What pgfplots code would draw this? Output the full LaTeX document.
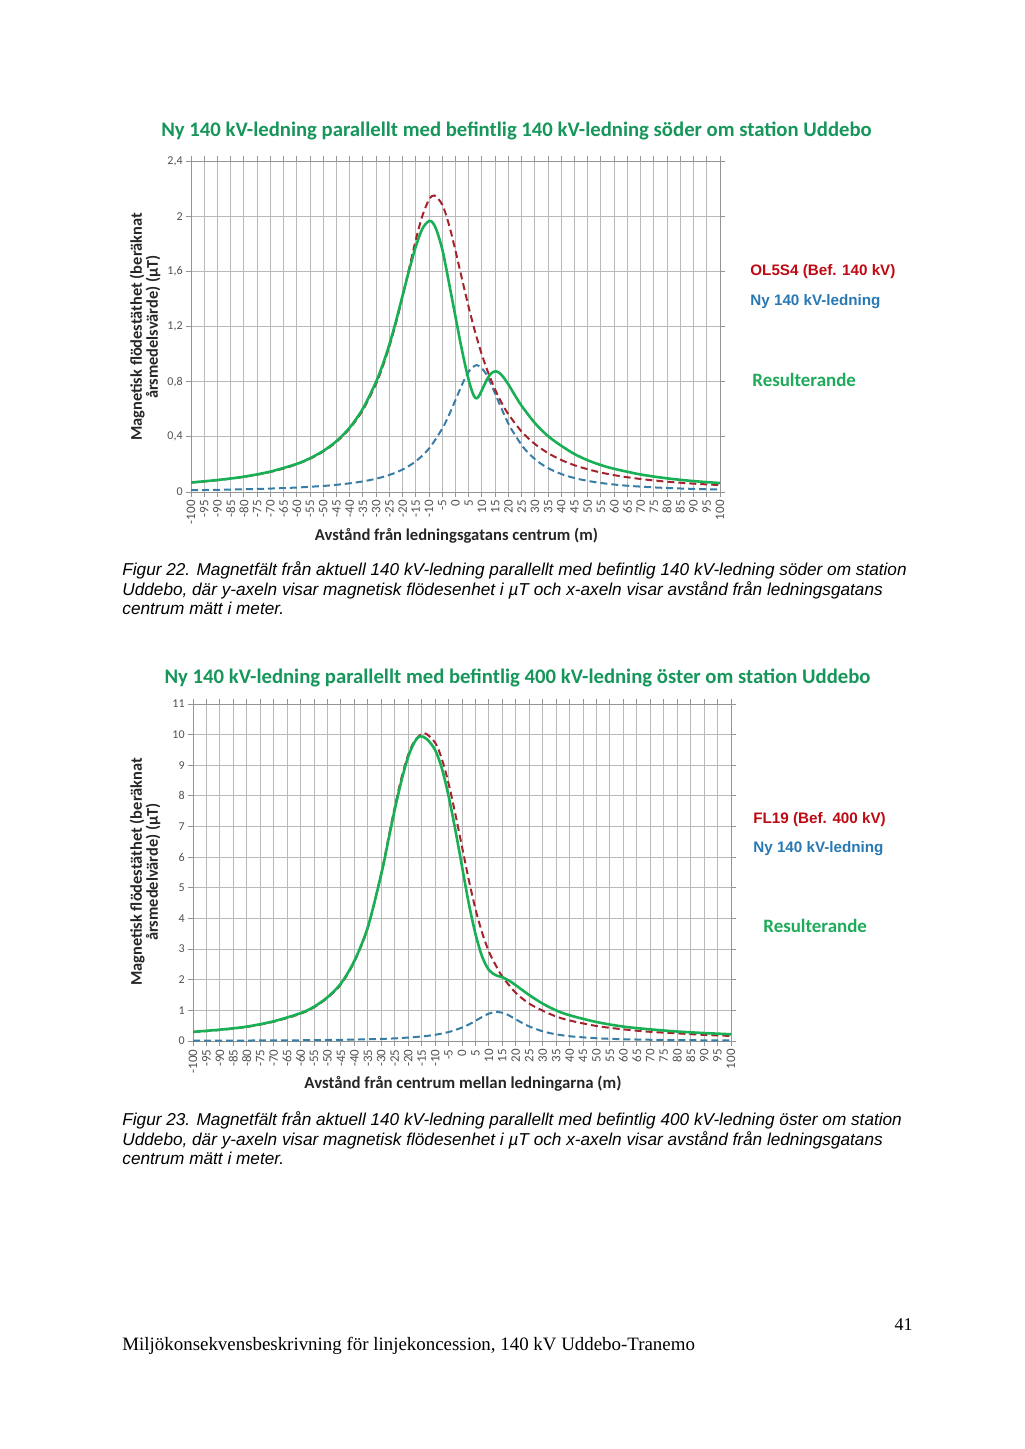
\documentclass[border=0pt]{standalone}
\usepackage{pgfplots}
\pgfplotsset{compat=1.18}
\usepackage{fontspec}
\setmainfont{Carlito}
\newfontfamily\arialf{Liberation Sans}
\newfontfamily\timesf{Liberation Serif}
\definecolor{titlegreen}{RGB}{22,150,90}
\definecolor{resgreen}{RGB}{30,170,90}
\definecolor{curvegreen}{RGB}{25,175,85}
\definecolor{curvered}{RGB}{165,35,45}
\definecolor{curveblue}{RGB}{55,125,165}
\definecolor{legred}{RGB}{190,10,20}
\definecolor{legblue}{RGB}{40,120,180}
\definecolor{gridgray}{RGB}{185,185,185}
\definecolor{ticktext}{RGB}{80,80,80}
\pgfplotsset{
  mychart/.style={
    scale only axis, anchor=south west,
    xmin=-100, xmax=100,
    xtick={-100,-95,...,100},
    grid=major,
    grid style={gridgray, line width=0.5pt},
    axis line style={gridgray!80!black, line width=0.5pt},
    tick align=outside, major tick length=2.5pt,
    tick style={gridgray!80!black, line width=0.5pt},
    xticklabel style={rotate=90, anchor=east, font=\fontsize{6.5}{7}\selectfont, text=ticktext, inner sep=1.5pt},
    yticklabel style={font=\fontsize{6}{7}\selectfont, text=ticktext, inner sep=1.5pt},
    /pgf/number format/assume math mode=true,
    /pgf/number format/use comma,
    /pgf/number format/1000 sep={},
  },
  gline/.style={curvegreen, line width=1.3pt, smooth},
  rline/.style={curvered, line width=1pt, dash pattern=on 3.5pt off 2pt, smooth},
  bline/.style={curveblue, line width=1pt, dash pattern=on 3.5pt off 2pt, smooth},
}
\begin{document}
\begin{tikzpicture}
\useasboundingbox (0,0) rectangle (512pt,-724.5pt);
% ---------- Chart 1 ----------
\begin{axis}[mychart, at={(95.5pt,-246pt)}, width=264.5pt, height=165.5pt,
  ymin=0, ymax=2.4, ytick={0,0.4,0.8,1.2,1.6,2,2.4}]
\addplot[bline] coordinates {(-100,0.0131)(-90,0.0159)(-80,0.0196)(-70,0.0249)(-60,0.0324)(-50,0.0440)(-45,0.0522)(-40,0.0629)(-35,0.0771)(-30,0.0964)(-25,0.1236)(-20,0.1631)(-15,0.2228)(-10,0.3154)(-5,0.46)(-2.5,0.557)(0,0.667)(2.5,0.780)(5,0.873)(8,0.92)(11,0.873)(13.5,0.780)(16,0.667)(18.5,0.557)(21,0.46)(26,0.3154)(31,0.2228)(36,0.1631)(41,0.1236)(46,0.0964)(51,0.0771)(56,0.0629)(61,0.0522)(66,0.0440)(76,0.0324)(86,0.0249)(96,0.0196)(100,0.0180)};
\addplot[rline] coordinates {(-100,0.0686)(-95,0.0764)(-90,0.0856)(-85,0.0966)(-80,0.1098)(-75,0.1257)(-70,0.1455)(-65,0.170)(-60,0.201)(-55,0.241)(-50,0.2935)(-45,0.3638)(-40,0.460)(-35,0.595)(-30,0.786)(-27.5,0.910)(-25,1.056)(-22.5,1.226)(-20,1.418)(-17.5,1.624)(-15,1.829)(-12.5,2.004)(-10,2.120)(-8,2.15)(-5,2.083)(-2.5,1.940)(0,1.749)(2.5,1.541)(5,1.339)(7.5,1.155)(10,0.994)(12.5,0.858)(15,0.742)(17.5,0.645)(20,0.564)(25,0.438)(30,0.348)(35,0.282)(40,0.232)(45,0.194)(50,0.165)(55,0.141)(60,0.122)(65,0.107)(70,0.0943)(75,0.0837)(80,0.0747)(85,0.0672)(90,0.0607)(95,0.0551)(100,0.0502)};
\addplot[gline] coordinates {(-100,0.069)(-90,0.087)(-80,0.111)(-70,0.148)(-60,0.204)(-55,0.245)(-50,0.298)(-45,0.369)(-40,0.467)(-35,0.605)(-30,0.80)(-27.5,0.925)(-25,1.07)(-22.5,1.24)(-20,1.425)(-17.5,1.61)(-15,1.78)(-12.5,1.91)(-10,1.965)(-8.5,1.95)(-7,1.89)(-5,1.76)(-3.5,1.62)(-2,1.47)(0,1.27)(2,1.07)(4,0.89)(5.5,0.775)(7,0.695)(8,0.68)(9,0.70)(10.5,0.76)(12,0.82)(13.5,0.86)(15,0.875)(16.5,0.865)(18,0.835)(20,0.78)(22.5,0.70)(25,0.625)(30,0.50)(35,0.405)(40,0.335)(45,0.275)(50,0.23)(55,0.195)(60,0.168)(70,0.127)(80,0.099)(90,0.079)(100,0.065)};
\end{axis}
\node[font=\fontsize{10.35}{12}\selectfont\bfseries, text=titlegreen] at (258.25pt,-65.5pt) {Ny 140 kV-ledning parallellt med befintlig 140 kV-ledning söder om station Uddebo};
\node[rotate=90, align=center, inner sep=0pt, font=\fontsize{8.2}{8}\selectfont\bfseries, text=black!85] at (72.5pt,-163.5pt) {Magnetisk flödestäthet (beräknat\\årsmedelsvärde) (µT)};
\node[font=\fontsize{8.3}{9}\selectfont\bfseries, text=black!85] at (228.25pt,-268pt) {Avstånd från ledningsgatans centrum (m)};
\node[anchor=west, inner sep=0pt, font=\arialf\bfseries\fontsize{7.6}{8}\selectfont, text=legred] at (375pt,-136pt) {OL5S4 (Bef. 140 kV)};
\node[anchor=west, inner sep=0pt, font=\arialf\bfseries\fontsize{7.6}{8}\selectfont, text=legblue] at (375pt,-151pt) {Ny 140 kV-ledning};
\node[anchor=west, inner sep=0pt, font=\fontsize{9.45}{10}\selectfont\bfseries, text=resgreen] at (376pt,-190pt) {Resulterande};
\begin{scope}[every node/.style={anchor=base west, inner sep=0pt, font=\arialf\itshape\fontsize{8.6}{9}\selectfont}]
\node at (61pt,-287.5pt) {Figur 22. Magnetfält från aktuell 140 kV-ledning parallellt med befintlig 140 kV-ledning söder om station};
\node at (61pt,-297.5pt) {Uddebo, där y-axeln visar magnetisk flödesenhet i µT och x-axeln visar avstånd från ledningsgatans};
\node at (61pt,-307pt) {centrum mätt i meter.};
\end{scope}
% ---------- Chart 2 ----------
\begin{axis}[mychart, at={(96.5pt,-520.5pt)}, width=269pt, height=168.5pt,
  ymin=0, ymax=11, ytick={0,1,...,11}]
\addplot[bline] coordinates {(-100,0.011)(-70,0.0195)(-50,0.033)(-35,0.056)(-25,0.086)(-15,0.147)(-9,0.218)(-4,0.316)(1,0.475)(4,0.608)(7,0.76)(10,0.894)(13,0.95)(16,0.894)(19,0.76)(22,0.608)(25,0.475)(30,0.316)(35,0.218)(41,0.1475)(51,0.086)(61,0.056)(76,0.033)(96,0.0195)(100,0.018)};
\addplot[rline] coordinates {(-100,0.29)(-90,0.36)(-80,0.46)(-70,0.63)(-60,0.89)(-55,1.1)(-50,1.41)(-45,1.85)(-40,2.59)(-35,3.7)(-30,5.48)(-27.5,6.56)(-25,7.63)(-22.5,8.59)(-20,9.34)(-17.5,9.81)(-14,10.05)(-10,9.74)(-7.5,9.21)(-5,8.41)(-2.5,7.42)(0,6.34)(2.5,5.27)(5,4.31)(7.5,3.53)(10,2.92)(12.5,2.48)(15,2.1)(20,1.57)(25,1.22)(30,0.99)(35,0.8)(40,0.67)(50,0.49)(60,0.38)(70,0.30)(80,0.25)(90,0.2)(100,0.165)};
\addplot[gline] coordinates {(-100,0.30)(-90,0.37)(-80,0.47)(-70,0.645)(-60,0.91)(-55,1.12)(-50,1.43)(-45,1.88)(-40,2.62)(-35,3.72)(-30,5.45)(-27.5,6.5)(-25,7.55)(-22.5,8.5)(-20,9.28)(-17.5,9.78)(-15.5,9.95)(-13,9.85)(-10,9.5)(-7.5,8.9)(-5,8.0)(-2.5,6.9)(0,5.7)(2.5,4.5)(5,3.5)(7.5,2.75)(10,2.32)(12.5,2.15)(15,2.08)(17.5,1.97)(20,1.82)(25,1.5)(30,1.22)(35,1.0)(40,0.84)(50,0.62)(60,0.47)(70,0.38)(80,0.31)(90,0.26)(100,0.22)};
\end{axis}
\node[font=\fontsize{10.35}{12}\selectfont\bfseries, text=titlegreen] at (258.75pt,-339pt) {Ny 140 kV-ledning parallellt med befintlig 400 kV-ledning öster om station Uddebo};
\node[rotate=90, align=center, inner sep=0pt, font=\fontsize{8.2}{8}\selectfont\bfseries, text=black!85] at (72.5pt,-436pt) {Magnetisk flödestäthet (beräknat\\årsmedelvärde) (µT)};
\node[font=\fontsize{8.4}{9}\selectfont\bfseries, text=black!85] at (231.5pt,-542pt) {Avstånd från centrum mellan ledningarna (m)};
\node[anchor=west, inner sep=0pt, font=\arialf\bfseries\fontsize{7.6}{8}\selectfont, text=legred] at (376.5pt,-410pt) {FL19 (Bef. 400 kV)};
\node[anchor=west, inner sep=0pt, font=\arialf\bfseries\fontsize{7.6}{8}\selectfont, text=legblue] at (376.5pt,-424.5pt) {Ny 140 kV-ledning};
\node[anchor=west, inner sep=0pt, font=\fontsize{9.45}{10}\selectfont\bfseries, text=resgreen] at (381.5pt,-463pt) {Resulterande};
\begin{scope}[every node/.style={anchor=base west, inner sep=0pt, font=\arialf\itshape\fontsize{8.6}{9}\selectfont}]
\node at (61pt,-562.5pt) {Figur 23. Magnetfält från aktuell 140 kV-ledning parallellt med befintlig 400 kV-ledning öster om station};
\node at (61pt,-572.5pt) {Uddebo, där y-axeln visar magnetisk flödesenhet i µT och x-axeln visar avstånd från ledningsgatans};
\node at (61pt,-582pt) {centrum mätt i meter.};
\end{scope}
% ---------- Footer ----------
\node[anchor=base west, inner sep=0pt, font=\timesf\fontsize{9.45}{10}\selectfont] at (61pt,-675pt) {Miljökonsekvensbeskrivning för linjekoncession, 140 kV Uddebo-Tranemo};
\node[anchor=base east, inner sep=0pt, font=\timesf\fontsize{9}{10}\selectfont] at (456.5pt,-665pt) {41};
\end{tikzpicture}
\end{document}
